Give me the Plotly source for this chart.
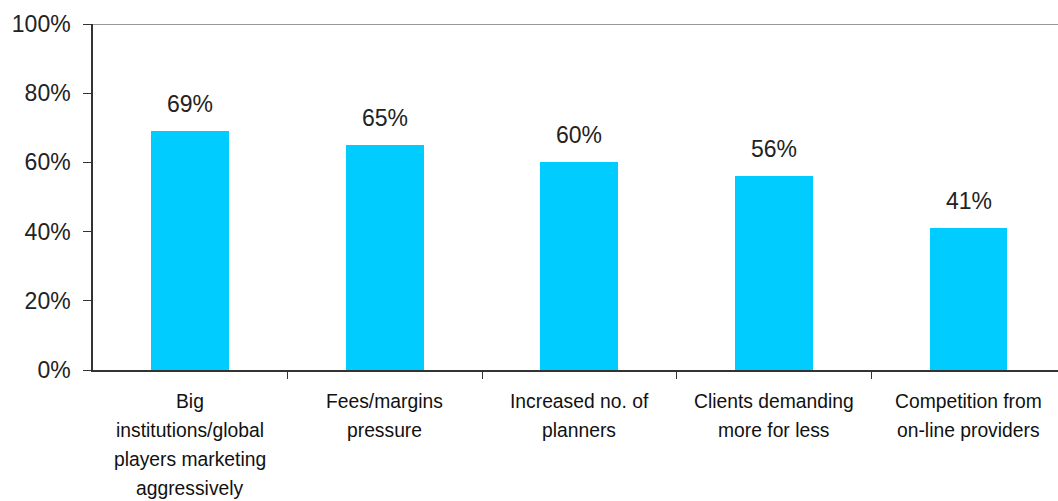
import plotly.graph_objects as go

categories = [
    "Big institutions/global players marketing aggressively",
    "Fees/margins pressure",
    "Increased no. of planners",
    "Clients demanding more for less",
    "Competition from on-line providers",
]
label_lines = [
    ["Big", "institutions/global", "players marketing", "aggressively"],
    ["Fees/margins", "pressure"],
    ["Increased no. of", "planners"],
    ["Clients demanding", "more for less"],
    ["Competition from", "on-line providers"],
]
values = [69, 65, 60, 56, 41]
y_ticks = [0, 20, 40, 60, 80, 100]
y_tick_text = ["0%", "20%", "40%", "60%", "80%", "100%"]

FONT = "Liberation Sans"
x_pos = list(range(len(categories)))

fig = go.Figure()
fig.add_trace(go.Bar(
    x=x_pos, y=values, width=0.4,
    marker=dict(color="#00CCFF", line=dict(width=0)),
    hovertext=categories, hoverinfo="text+y",
))

annotations = []
# value labels above each bar
for xi, v in zip(x_pos, values):
    annotations.append(dict(
        x=xi, y=v, xref="x", yref="y", text=f"{v}%", showarrow=False,
        yanchor="middle", yshift=27,
        font=dict(family=FONT, size=23, color="#222222"),
    ))
# multi-line category labels under the axis
for xi, lines in zip(x_pos, label_lines):
    for i, line in enumerate(lines):
        annotations.append(dict(
            x=xi, y=0, xref="x", yref="y", text=line, showarrow=False,
            yanchor="middle", yshift=-(31 + 29.3 * i),
            font=dict(family=FONT, size=19.3, color="#111111"),
        ))

fig.update_layout(
    width=1058, height=501,
    margin=dict(l=93, r=0, t=24, b=131),
    paper_bgcolor="white", plot_bgcolor="white",
    showlegend=False,
    bargap=0,
    annotations=annotations,
    shapes=[dict(type="line", xref="paper", yref="y", x0=0, x1=1, y0=100, y1=100,
                 line=dict(color="#999999", width=2))],
    xaxis=dict(
        range=[-0.5, 4.46], tickmode="array",
        tickvals=[0.5, 1.5, 2.5, 3.5], ticktext=["", "", "", ""],
        ticks="outside", ticklen=7, tickwidth=1.3, tickcolor="#333333",
        showgrid=False, zeroline=False,
        showline=True, linecolor="#333333", linewidth=1.5,
    ),
    yaxis=dict(
        range=[0, 100], tickmode="array", tickvals=y_ticks, ticktext=y_tick_text,
        ticks="outside", ticklen=8, tickwidth=1.3, tickcolor="#333333",
        ticklabelstandoff=8,
        tickfont=dict(family=FONT, size=23, color="#222222"),
        showgrid=False, zeroline=False,
        showline=True, linecolor="#333333", linewidth=1.5,
    ),
)

fig.write_html("out.html")
